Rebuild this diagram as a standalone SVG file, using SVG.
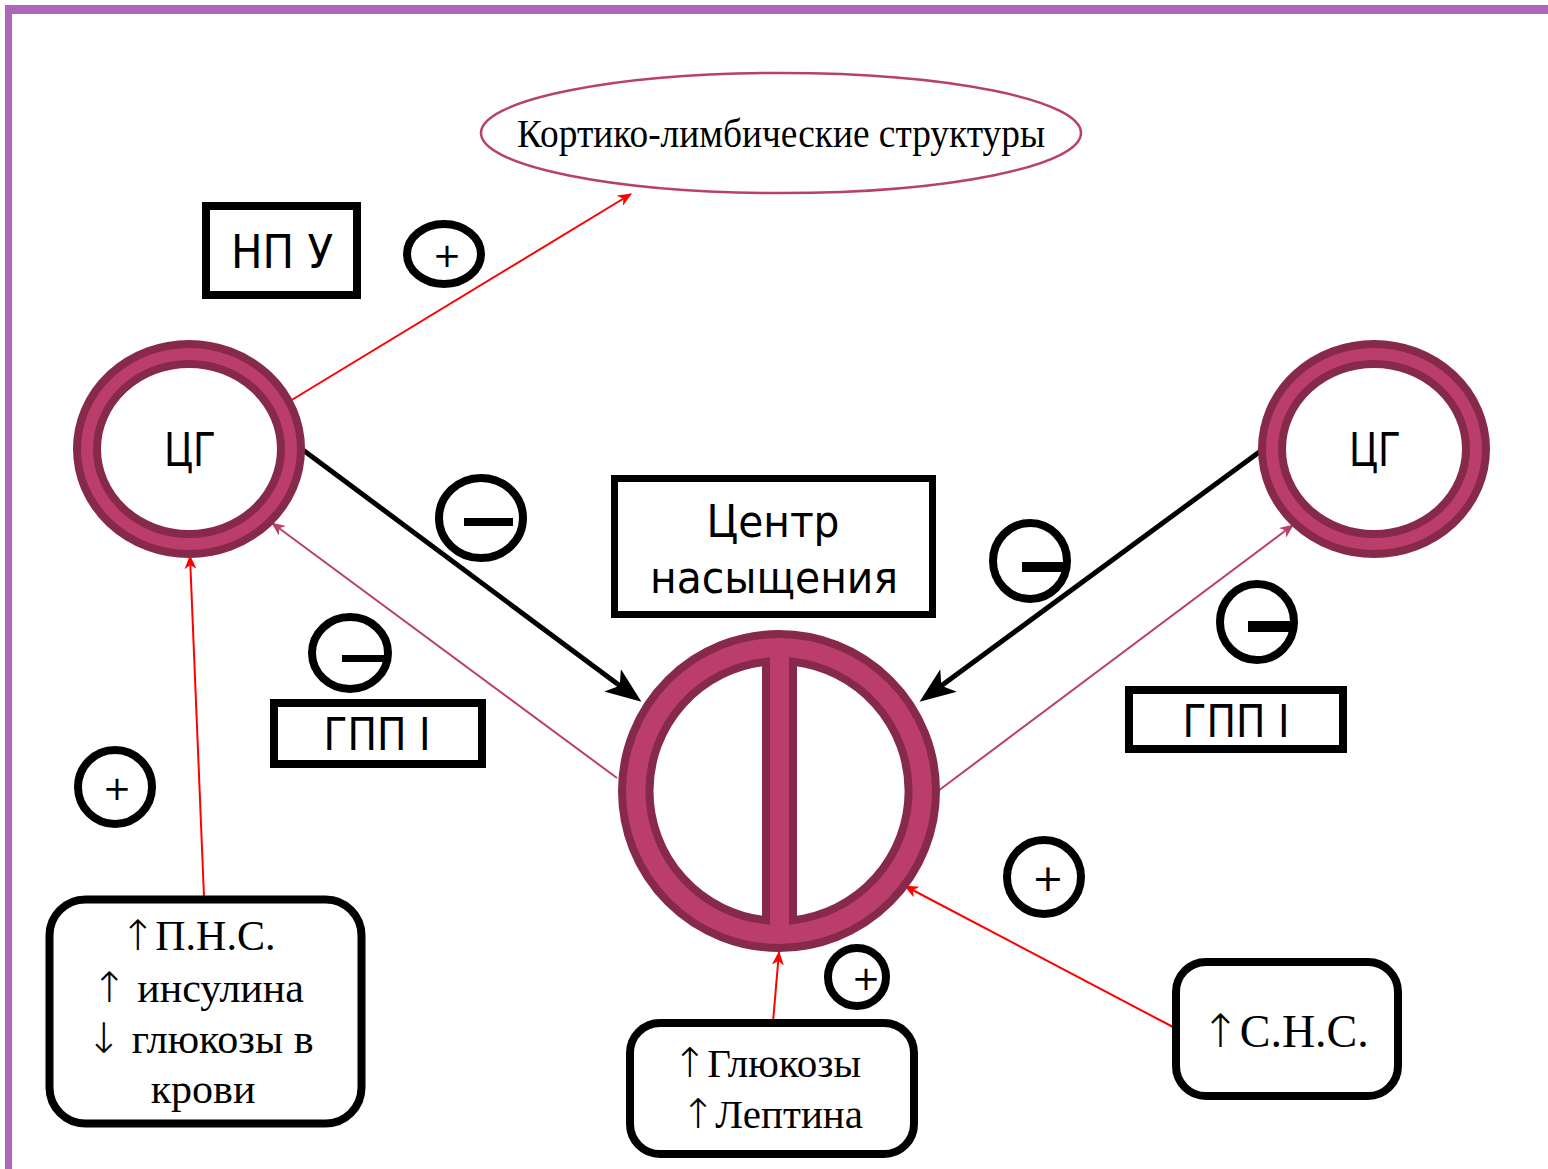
<svg xmlns="http://www.w3.org/2000/svg" width="1548" height="1169" viewBox="0 0 1548 1169">
<defs>
<style>
.sans{font-family:"DejaVu Sans","Liberation Sans",sans-serif;fill:#000}
.serif{font-family:"Liberation Serif","Times New Roman",serif;fill:#000}
.arr{font-family:"DejaVu Sans ExtraLight","DejaVu Sans",sans-serif;font-weight:200}
.box{fill:#fff;stroke:#000;stroke-width:8}
.sign{fill:#fff;stroke:#000;stroke-width:8}
.ringD{fill:#fff;stroke:#86294B;stroke-width:28}
.ringP{fill:none;stroke:#BA3E69;stroke-width:12}
.red{stroke:#FF0000;stroke-width:2;fill:none}
.pink{stroke:#B8416A;stroke-width:2;fill:none}
.blk{stroke:#000;stroke-width:5;fill:none}
</style>
<marker id="aRed" markerUnits="userSpaceOnUse" markerWidth="14" markerHeight="12" refX="13" refY="6" orient="auto">
<path d="M0,0 L14,6 L0,12 L4,6 z" fill="#FF0000"/>
</marker>
<marker id="aPink" markerUnits="userSpaceOnUse" markerWidth="14" markerHeight="12" refX="13" refY="6" orient="auto">
<path d="M0,0 L14,6 L0,12 L4,6 z" fill="#B8416A"/>
</marker>
<marker id="aBlk" markerUnits="userSpaceOnUse" markerWidth="36" markerHeight="28" refX="28" refY="14" orient="auto">
<path d="M0,0 L36,14 L0,28 L9,14 z" fill="#000"/>
</marker>
</defs>
<rect width="1548" height="1169" fill="#fff"/>
<g id="border">
<rect x="5" y="5" width="1543" height="9" fill="#AD66BA"/>
<rect x="5" y="5" width="7" height="1164" fill="#AD66BA"/>
</g>

<g id="connectors">
<line class="red" x1="290" y1="401" x2="631" y2="194" marker-end="url(#aRed)"/>
<line class="blk" x1="303" y1="450" x2="635" y2="697" marker-end="url(#aBlk)"/>
<line class="blk" x1="1262" y1="450" x2="926" y2="697" marker-end="url(#aBlk)"/>
<line class="pink" x1="617" y1="778" x2="272" y2="523" marker-end="url(#aPink)"/>
<line class="pink" x1="938" y1="791" x2="1293" y2="525" marker-end="url(#aPink)"/>
<line class="red" x1="204" y1="897" x2="190" y2="556" marker-end="url(#aRed)"/>
<line class="red" x1="773" y1="1022" x2="779" y2="952" marker-end="url(#aRed)"/>
<line class="red" x1="1173" y1="1027" x2="905" y2="886" marker-end="url(#aRed)"/>
</g>

<g id="cortico">
<ellipse cx="781" cy="133" rx="300" ry="60" fill="#fff" stroke="#B8416A" stroke-width="2.5"/>
<text class="serif" x="781" y="147" font-size="40" text-anchor="middle" textLength="528" lengthAdjust="spacingAndGlyphs">Кортико-лимбические  структуры</text>
</g>

<g id="npu">
<rect class="box" x="206" y="206" width="151" height="89"/>
<text class="sans" x="282" y="268" font-size="46" text-anchor="middle" textLength="102" lengthAdjust="spacingAndGlyphs">НП У</text>
</g>

<g id="plus1">
<ellipse class="sign" cx="444" cy="254" rx="37" ry="30"/>
<text class="sans" x="447" y="267" font-size="34" text-anchor="middle">+</text>
</g>

<g id="cg-left">
<ellipse class="ringD" cx="189" cy="449" rx="102" ry="95"/>
<ellipse class="ringP" cx="189" cy="449" rx="102" ry="95"/>
<text class="sans" x="190" y="466" font-size="46" text-anchor="middle" textLength="52" lengthAdjust="spacingAndGlyphs">ЦГ</text>
</g>

<g id="cg-right">
<ellipse class="ringD" cx="1374" cy="449" rx="102" ry="95"/>
<ellipse class="ringP" cx="1374" cy="449" rx="102" ry="95"/>
<text class="sans" x="1375" y="466" font-size="46" text-anchor="middle" textLength="52" lengthAdjust="spacingAndGlyphs">ЦГ</text>
</g>

<g id="minus1">
<ellipse class="sign" cx="481" cy="518" rx="42" ry="40"/>
<rect x="464" y="518" width="49" height="8" fill="#000"/>
</g>

<g id="center-label">
<rect x="614.5" y="478.5" width="318" height="136" fill="#fff" stroke="#000" stroke-width="7"/>
<text class="sans" x="773" y="537" font-size="44" text-anchor="middle" textLength="133" lengthAdjust="spacingAndGlyphs">Центр</text>
<text class="sans" x="774" y="593" font-size="44" text-anchor="middle" textLength="248" lengthAdjust="spacingAndGlyphs">насыщения</text>
</g>

<g id="minus2">
<ellipse class="sign" cx="350" cy="653" rx="38" ry="36"/>
<rect x="342" y="655" width="42" height="7" fill="#000"/>
</g>

<g id="gpp-left">
<rect class="box" x="274" y="703" width="208" height="61"/>
<text class="sans" x="377" y="750" font-size="44" text-anchor="middle" textLength="107" lengthAdjust="spacingAndGlyphs">ГПП I</text>
</g>

<g id="minus3">
<ellipse class="sign" cx="1030" cy="561" rx="37" ry="38"/>
<rect x="1022" y="562" width="42" height="10" fill="#000"/>
</g>

<g id="minus4">
<ellipse class="sign" cx="1257" cy="622" rx="37" ry="38"/>
<rect x="1248" y="621" width="46" height="11" fill="#000"/>
</g>

<g id="gpp-right">
<rect class="box" x="1129" y="690" width="214" height="59"/>
<text class="sans" x="1236" y="737" font-size="44" text-anchor="middle" textLength="107" lengthAdjust="spacingAndGlyphs">ГПП I</text>
</g>

<g id="satiety-center">
<circle cx="779" cy="791" r="157" fill="#BA3E69" stroke="#86294B" stroke-width="8"/>
<path d="M766,661.7 A130,130 0 0 0 766,920.3 Z" fill="#fff" stroke="#86294B" stroke-width="8"/>
<path d="M793,661.8 A130,130 0 0 1 793,920.2 Z" fill="#fff" stroke="#86294B" stroke-width="8"/>
</g>

<g id="plus2">
<circle class="sign" cx="115" cy="787" r="37"/>
<text class="sans" x="117" y="800" font-size="34" text-anchor="middle">+</text>
</g>

<g id="plus3">
<circle class="sign" cx="1044" cy="877" r="37"/>
<text class="sans" x="1048" y="891" font-size="38" text-anchor="middle">+</text>
</g>

<g id="plus4">
<circle class="sign" cx="857" cy="977" r="29"/>
<text class="sans" x="866" y="990" font-size="34" text-anchor="middle">+</text>
</g>

<g id="pns-box">
<rect class="box" x="49.5" y="899.5" width="312" height="224" rx="36"/>
<text class="serif" font-size="42" text-anchor="middle">
<tspan x="203" y="950"><tspan class="arr">↑</tspan>П.Н.С.</tspan>
<tspan x="203" y="1002"><tspan class="arr">↑</tspan> инсулина</tspan>
<tspan x="205" y="1053"><tspan class="arr">↓</tspan> глюкозы в</tspan>
<tspan x="203" y="1103">крови</tspan>
</text>
</g>

<g id="glucose-box">
<rect class="box" x="630" y="1023" width="284" height="131" rx="30"/>
<text class="serif" font-size="41" text-anchor="middle">
<tspan x="772" y="1077"><tspan class="arr">↑</tspan>Глюкозы</tspan>
<tspan x="772" y="1128"><tspan class="arr">↑</tspan>Лептина</tspan>
</text>
</g>

<g id="sns-box">
<rect class="box" x="1176" y="962" width="222" height="134" rx="30"/>
<text class="serif" x="1285" y="1047" font-size="46" text-anchor="middle"><tspan class="arr">↑</tspan>С.Н.С.</text>
</g>
</svg>
